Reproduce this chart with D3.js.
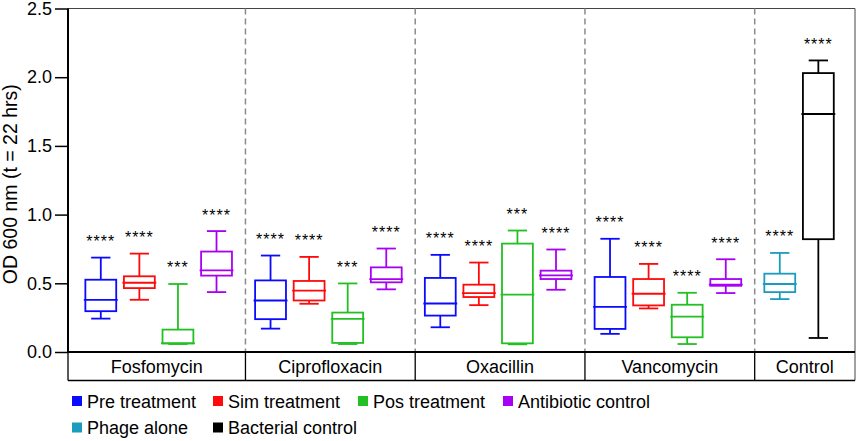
<!DOCTYPE html>
<html>
<head>
<meta charset="utf-8">
<script src="https://cdn.jsdelivr.net/npm/d3@7"></script>
<style>
  body { margin: 0; background: #fff; }
  svg { font-family: "Liberation Sans", Arial, sans-serif; }
</style>
</head>
<body>
<svg id="chart" width="858" height="441"></svg>
<script>
const groups = ["Fosfomycin", "Ciprofloxacin", "Oxacillin", "Vancomycin", "Control"];
const seriesNames = ["Pre treatment", "Sim treatment", "Pos treatment", "Antibiotic control", "Phage alone", "Bacterial control"];
const seriesColors = ["#0a0aff", "#ff0a0a", "#22c022", "#a800f5", "#1a9cbf", "#000000"];

// one entry per box, left to right
const boxGroup  = [0, 0, 0, 0, 1, 1, 1, 1, 2, 2, 2, 2, 3, 3, 3, 3, 4, 4];
const boxSlot   = [0, 1, 2, 3, 0, 1, 2, 3, 0, 1, 2, 3, 0, 1, 2, 3, 0, 1];
const boxSeries = [0, 1, 2, 3, 0, 1, 2, 3, 0, 1, 2, 3, 0, 1, 2, 3, 4, 5];
const boxMin    = [0.243, 0.380, 0.058, 0.436, 0.170, 0.351, 0.058, 0.456, 0.180, 0.341, 0.056, 0.453, 0.132, 0.317, 0.058, 0.429, 0.385, 0.102];
const boxQ1     = [0.297, 0.465, 0.063, 0.556, 0.239, 0.375, 0.066, 0.507, 0.265, 0.400, 0.063, 0.531, 0.168, 0.339, 0.107, 0.482, 0.436, 0.821];
const boxMedian = [0.380, 0.504, 0.063, 0.594, 0.375, 0.446, 0.241, 0.531, 0.353, 0.429, 0.417, 0.558, 0.329, 0.424, 0.258, 0.490, 0.495, 1.732];
const boxQ3     = [0.526, 0.551, 0.163, 0.731, 0.521, 0.517, 0.287, 0.616, 0.539, 0.490, 0.789, 0.592, 0.546, 0.531, 0.344, 0.531, 0.570, 2.030];
const boxMax    = [0.687, 0.716, 0.495, 0.880, 0.702, 0.692, 0.499, 0.753, 0.707, 0.651, 0.884, 0.746, 0.824, 0.641, 0.431, 0.675, 0.721, 2.122];
const boxStars  = ["****", "****", "***", "****", "****", "****", "***", "****", "****", "****", "***", "****", "****", "****", "****", "****", "****", "****"];
const yTicks = [0, 0.5, 1.0, 1.5, 2.0, 2.5];

const svg = d3.select("#chart");
const plotL = 68, plotR = 855, plotT = 8.5, plotB = 352, stripB = 380.5;
const groupStep = 4.4;

const x = d3.scaleLinear().domain([-0.85, 19.55]).range([plotL, plotR]);
const y = d3.scaleLinear().domain([0, 2.5]).range([plotB, plotT]);
const unit = x(1) - x(0);
const boxW = unit * 0.8, capW = unit * 0.5;

const pos = i => x(boxGroup[i] * groupStep + boxSlot[i]);

// frame top and right
svg.append("path")
  .attr("d", `M${plotL},${plotT}H${plotR}V${stripB}`)
  .attr("fill", "none").attr("stroke", "#444").attr("stroke-width", 1);

// group separators (dashed in plot, solid in the label strip)
const seps = d3.range(1, groups.length).map(k => x(k * groupStep - 0.65));
svg.selectAll(".sep").data(seps).enter().append("line")
  .attr("x1", d => d).attr("x2", d => d)
  .attr("y1", plotT).attr("y2", plotB)
  .attr("stroke", "#8a8a8a").attr("stroke-width", 1.5)
  .attr("stroke-dasharray", "6,4");
svg.selectAll(".sep2").data(seps).enter().append("line")
  .attr("x1", d => d).attr("x2", d => d)
  .attr("y1", plotB).attr("y2", stripB)
  .attr("stroke", "#000").attr("stroke-width", 1.3);

// label strip
svg.append("line").attr("x1", plotL).attr("x2", plotR).attr("y1", stripB).attr("y2", stripB)
  .attr("stroke", "#000").attr("stroke-width", 1.3);
svg.append("line").attr("x1", plotL).attr("x2", plotL).attr("y1", plotB).attr("y2", stripB)
  .attr("stroke", "#000").attr("stroke-width", 1.3);

const bounds = [plotL].concat(seps, [plotR]);
svg.selectAll(".glabel").data(groups).enter().append("text")
  .attr("x", (d, i) => (bounds[i] + bounds[i + 1]) / 2)
  .attr("y", 373)
  .attr("text-anchor", "middle")
  .attr("font-size", 18)
  .text(d => d);

// y axis
const yAxis = svg.append("g")
  .attr("transform", `translate(${plotL},0)`)
  .call(d3.axisLeft(y).tickValues(yTicks).tickFormat(d3.format(".1f")).tickSize(13).tickPadding(3));
yAxis.select(".domain").attr("stroke-width", 2).attr("d", `M0,${plotT}V${plotB}`);
yAxis.selectAll(".tick line").attr("stroke-width", 1.5);
yAxis.selectAll(".tick text").attr("font-size", 18).attr("fill", "#000")
  .attr("font-family", "Liberation Sans, Arial, sans-serif");

// x axis line
svg.append("line").attr("x1", plotL - 1).attr("x2", plotR).attr("y1", plotB).attr("y2", plotB)
  .attr("stroke", "#000").attr("stroke-width", 2);

svg.append("text")
  .attr("transform", `translate(17,${(plotT + plotB) / 2 + 4}) rotate(-90)`)
  .attr("text-anchor", "middle")
  .attr("font-size", 19.5)
  .text("OD 600 nm (t = 22 hrs)");

// boxes
const idx = d3.range(boxMin.length);
const g = svg.selectAll(".box").data(idx).enter().append("g")
  .attr("stroke", i => seriesColors[boxSeries[i]])
  .attr("stroke-width", 1.8)
  .attr("fill", "none");

g.append("line").attr("x1", pos).attr("x2", pos)
  .attr("y1", i => y(boxQ3[i])).attr("y2", i => y(boxMax[i]));
g.append("line").attr("x1", pos).attr("x2", pos)
  .attr("y1", i => y(boxQ1[i])).attr("y2", i => y(boxMin[i]));
g.append("line").attr("x1", i => pos(i) - capW / 2).attr("x2", i => pos(i) + capW / 2)
  .attr("y1", i => y(boxMax[i])).attr("y2", i => y(boxMax[i]));
g.append("line").attr("x1", i => pos(i) - capW / 2).attr("x2", i => pos(i) + capW / 2)
  .attr("y1", i => y(boxMin[i])).attr("y2", i => y(boxMin[i]));
g.append("rect")
  .attr("x", i => pos(i) - boxW / 2).attr("width", boxW)
  .attr("y", i => y(boxQ3[i])).attr("height", i => y(boxQ1[i]) - y(boxQ3[i]));
g.append("line").attr("x1", i => pos(i) - boxW / 2 - 1.5).attr("x2", i => pos(i) + boxW / 2 + 1.5)
  .attr("y1", i => y(boxMedian[i])).attr("y2", i => y(boxMedian[i]));

// significance stars
svg.selectAll(".stars").data(idx).enter().append("text")
  .attr("x", pos)
  .attr("y", i => y(boxMax[i]) - 10.5)
  .attr("text-anchor", "middle")
  .attr("font-size", 16)
  .attr("letter-spacing", 1)
  .text(i => boxStars[i]);

// legend
const legendX = [72, 213, 358, 503, 72, 213];
const legendY = [401, 401, 401, 401, 427.5, 427.5];
const lg = svg.selectAll(".leg").data(seriesNames).enter().append("g")
  .attr("transform", (d, i) => `translate(${legendX[i]},${legendY[i]})`);
lg.append("rect").attr("x", 0).attr("y", -5).attr("width", 10).attr("height", 10)
  .attr("fill", (d, i) => seriesColors[i]);
lg.append("text").attr("x", 15).attr("y", 6.5).attr("font-size", 18).text(d => d);
</script>
</body>
</html>
